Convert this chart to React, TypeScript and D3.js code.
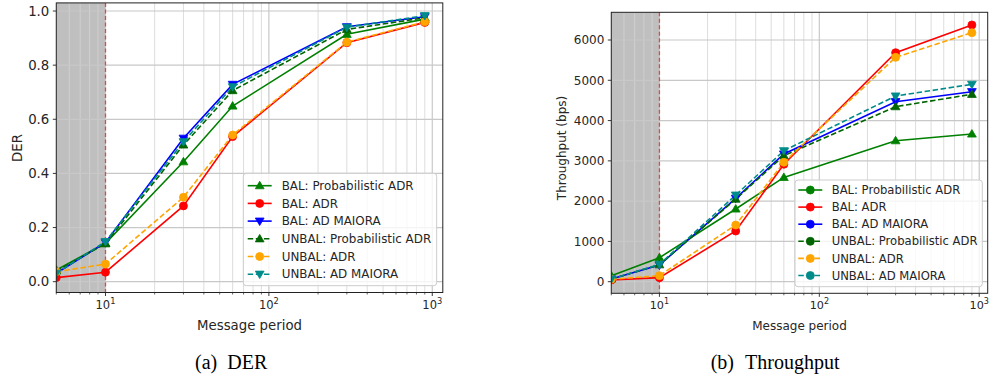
import React from 'react';
import * as d3 from 'd3';

const periods = [5, 10, 30, 60, 300, 900];

const seriesNames = [
  'BAL: Probabilistic ADR',
  'BAL: ADR',
  'BAL: AD MAIORA',
  'UNBAL: Probabilistic ADR',
  'UNBAL: ADR',
  'UNBAL: AD MAIORA',
];
const seriesColors = ['#008000', '#ff0000', '#0000ff', '#006400', '#ffa500', '#008b8b'];
const seriesDashed = [false, false, false, true, true, true];
const seriesMarkers = ['up', 'circle', 'down', 'up', 'circle', 'down'];

// DER values
const derBalProb = [0.043, 0.142, 0.443, 0.649, 0.914, 0.970];
const derBalAdr = [0.015, 0.035, 0.280, 0.536, 0.883, 0.958];
const derBalMaiora = [0.031, 0.145, 0.530, 0.729, 0.942, 0.979];
const derUnbalProb = [0.040, 0.140, 0.505, 0.706, 0.932, 0.975];
const derUnbalAdr = [0.037, 0.065, 0.312, 0.542, 0.885, 0.960];
const derUnbalMaiora = [0.031, 0.148, 0.517, 0.720, 0.940, 0.983];

// Throughput values (bps)
const thrBalProb = [150, 596, 1805, 2590, 3500, 3667];
const thrBalAdr = [42, 100, 1258, 2915, 5685, 6373];
const thrBalMaiora = [67, 415, 2070, 3170, 4469, 4717];
const thrUnbalProb = [67, 420, 2050, 3130, 4345, 4652];
const thrUnbalAdr = [60, 150, 1408, 2964, 5570, 6182];
const thrUnbalMaiora = [67, 430, 2150, 3252, 4610, 4900];

const derTicks = [0, 0.2, 0.4, 0.6, 0.8, 1.0];
const thrTicks = [0, 1000, 2000, 3000, 4000, 5000, 6000];
const decadeTicks = [10, 100, 1000];
const decadeExps = ['1', '2', '3'];
const minorTicks = [5, 6, 7, 8, 9, 20, 30, 40, 50, 60, 70, 80, 90, 200, 300, 400, 500, 600, 700, 800, 900];
const shadeRange = [5, 10];

function Marker({ type, cx, cy, color }: any) {
  if (type === 'circle') return <circle cx={cx} cy={cy} r={4} fill={color} stroke={color} strokeWidth={0.8} />;
  const h = 4.4;
  const w = 4.4;
  if (type === 'up') {
    return <path d={`M${cx},${cy - h}L${cx + w},${cy + h * 0.7}L${cx - w},${cy + h * 0.7}Z`} fill={color} stroke={color} strokeWidth={0.8} />;
  }
  return <path d={`M${cx},${cy + h}L${cx + w},${cy - h * 0.7}L${cx - w},${cy - h * 0.7}Z`} fill={color} stroke={color} strokeWidth={0.8} />;
}

function Panel(props: any) {
  const { id, left, right, top, bottom, xMax, yDomain, yTicks, yFmt, data, yLabel, yLabelX, fs, xfs, legend } = props;
  const x = d3.scaleLog().domain([5, xMax]).range([left, right]);
  const y = d3.scaleLinear().domain(yDomain).range([bottom, top]);
  const line = d3.line<number>().x((_, i) => x(periods[i])).y((v) => y(v));
  const textColor = '#262626';
  const font = 'DejaVu Sans';
  return (
    <g>
      <defs>
        <clipPath id={id}>
          <rect x={left} y={top} width={right - left} height={bottom - top} />
        </clipPath>
      </defs>
      <rect x={x(shadeRange[0])} y={top} width={x(shadeRange[1]) - x(shadeRange[0])} height={bottom - top} fill="#bfbfbf" />
      {/* grid */}
      {minorTicks.map((t) => (
        <line key={'mg' + t} x1={x(t)} x2={x(t)} y1={top} y2={bottom} stroke="#d4d4d4" strokeWidth={0.8} />
      ))}
      {decadeTicks.filter((t) => t <= xMax).map((t) => (
        <line key={'Mg' + t} x1={x(t)} x2={x(t)} y1={top} y2={bottom} stroke="#c8c8c8" strokeWidth={1.2} />
      ))}
      {yTicks.map((t: number) => (
        <line key={'yg' + t} x1={left} x2={right} y1={y(t)} y2={y(t)} stroke="#c8c8c8" strokeWidth={1.2} />
      ))}
      <line x1={x(10)} x2={x(10)} y1={top} y2={bottom} stroke="#e04848" strokeWidth={1.3} strokeDasharray="4,2.5" />
      {/* series */}
      <g clipPath={`url(#${id})`}>
        {data.map((vals: number[], si: number) => (
          <path key={'l' + si} d={line(vals) || ''} fill="none" stroke={seriesColors[si]} strokeWidth={1.6}
            strokeDasharray={seriesDashed[si] ? '5.5,2.6' : undefined} />
        ))}
        {data.map((vals: number[], si: number) =>
          vals.map((v, i) => (
            <Marker key={'m' + si + '_' + i} type={seriesMarkers[si]} cx={x(periods[i])} cy={y(v)} color={seriesColors[si]} />
          ))
        )}
      </g>
      {/* frame */}
      <rect x={left} y={top} width={right - left} height={bottom - top} fill="none" stroke="#222" strokeWidth={1} />
      {/* x ticks */}
      {minorTicks.map((t) => (
        <line key={'mt' + t} x1={x(t)} x2={x(t)} y1={bottom} y2={bottom + 2} stroke="#222" strokeWidth={0.7} />
      ))}
      {decadeTicks.map((t, i) => (
        <g key={'xt' + t}>
          <line x1={x(t)} x2={x(t)} y1={bottom} y2={bottom + 3.5} stroke="#222" strokeWidth={0.9} />
          <text x={x(t)} y={bottom + 16} textAnchor="middle" fontFamily={font} fontSize={xfs} fill={textColor}>
            10<tspan dy={-5} fontSize={xfs * 0.72}>{decadeExps[i]}</tspan>
          </text>
        </g>
      ))}
      {/* y ticks */}
      {yTicks.map((t: number) => (
        <g key={'yt' + t}>
          <line x1={left - 3.5} x2={left} y1={y(t)} y2={y(t)} stroke="#222" strokeWidth={0.9} />
          <text x={left - 7} y={y(t)} dy="0.36em" textAnchor="end" fontFamily={font} fontSize={fs} fill={textColor}>
            {yFmt(t)}
          </text>
        </g>
      ))}
      <text x={(left + right) / 2} y={329.5} textAnchor="middle" fontFamily={font} fontSize={fs} fill={textColor}>
        Message period
      </text>
      <text transform={`translate(${yLabelX},148) rotate(-90)`} textAnchor="middle" dy="0.36em" fontFamily={font} fontSize={fs} fill={textColor}>
        {yLabel}
      </text>
      {/* legend */}
      <g>
        <rect x={legend.x} y={legend.y} width={legend.w} height={legend.h} rx={3} fill="white" fillOpacity={0.8} stroke="#cccccc" strokeWidth={1} />
        {seriesNames.map((name, si) => {
          const cy = legend.y0 + si * legend.dy;
          return (
            <g key={'lg' + si}>
              <line x1={legend.hx} x2={legend.hx + 24} y1={cy} y2={cy} stroke={seriesColors[si]} strokeWidth={1.6}
                strokeDasharray={seriesDashed[si] ? '5.5,2.6' : undefined} />
              <Marker type={legend.circles ? 'circle' : seriesMarkers[si]} cx={legend.hx + 12} cy={cy} color={seriesColors[si]} />
              <text x={legend.tx} y={cy} dy="0.36em" fontFamily={font} fontSize={legend.fs} fill={textColor}>
                {name}
              </text>
            </g>
          );
        })}
      </g>
    </g>
  );
}

export default function App() {
  const derData = [derBalProb, derBalAdr, derBalMaiora, derUnbalProb, derUnbalAdr, derUnbalMaiora];
  const thrData = [thrBalProb, thrBalAdr, thrBalMaiora, thrUnbalProb, thrUnbalAdr, thrUnbalMaiora];
  return (
    <svg width={990} height={384} style={{ position: 'absolute', left: 0, top: 0, background: 'white' }}>
      <Panel id="clipA" left={56.3} right={442.8} top={2.9} bottom={292.5} xMax={1160}
        yDomain={[-0.04, 1.03]} yTicks={derTicks} yFmt={(t: number) => t.toFixed(1)} data={derData}
        yLabel="DER" yLabelX={17} fs={13.3} xfs={11.5}
        legend={{ x: 243.3, y: 173.3, w: 193.4, h: 112.4, y0: 185.7, dy: 17.7, hx: 247.7, tx: 281.7, fs: 11.9, circles: false }} />
      <Panel id="clipB" left={611.3} right={987.7} top={12.3} bottom={293.3} xMax={1130}
        yDomain={[-288, 6688]} yTicks={thrTicks} yFmt={(t: number) => String(t)} data={thrData}
        yLabel="Throughput (bps)" yLabelX={561.7} fs={12} xfs={11.2}
        legend={{ x: 795, y: 180, w: 187.3, h: 106.7, y0: 190, dy: 17.1, hx: 798.3, tx: 831.7, fs: 11.6, circles: true }} />
      <text y={369} fontFamily="Liberation Serif" fontSize={20} fill="#000">
        <tspan x={195}>(a)</tspan>
        <tspan x={227.3}>DER</tspan>
      </text>
      <text y={369} fontFamily="Liberation Serif" fontSize={20} fill="#000">
        <tspan x={710.7}>(b)</tspan>
        <tspan x={745}>Throughput</tspan>
      </text>
    </svg>
  );
}
